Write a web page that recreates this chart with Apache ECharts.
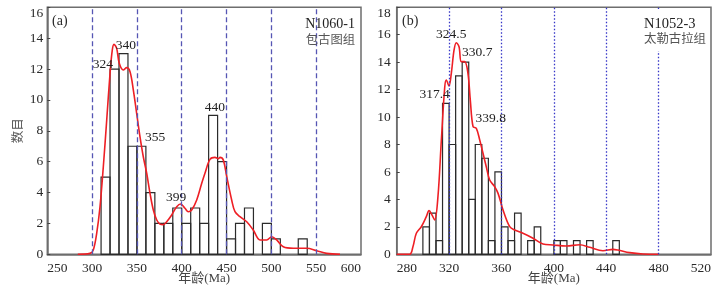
<!DOCTYPE html>
<html>
<head>
<meta charset="utf-8">
<script src="https://cdn.jsdelivr.net/npm/echarts@6/dist/echarts.min.js"></script>
<style>
html,body{margin:0;padding:0;background:#fff;}
#c{width:726px;height:305px;}
</style>
</head>
<body>
<div id="c"></div>
<script>
// ---------- Panel (a) N1060-1 ----------
const binStartA = [310,320,330,340,350,360,370,380,390,400,410,420,430,440,450,460,470,480,490,500,510,520,530];
const countsA   = [5,12,13,7,7,4,2,2,3,2,3,2,9,6,1,2,3,0,2,1,0,0,1];
const binWidthA = 10;
const curveA = [[284,0],[297.6,0.06],[301.3,0.28],[305.1,1.36],[308.8,3.08],[312.5,5.67],[316.3,8.7],[320,11.73],[322.5,13.23],[324.4,13.6],[327.4,13.34],[330.3,12.37],[334.8,11.94],[338.6,12.09],[342.3,11.83],[346,10.64],[349.7,9.13],[353.4,7.62],[357.1,6.32],[360.9,5.25],[364.6,3.95],[368.3,2.87],[372.1,2.22],[375.7,1.96],[379.4,1.92],[383.2,2.11],[388.8,2.55],[394.4,3.08],[398.8,3.26],[403.6,2.98],[407.3,2.76],[411.1,2.87],[416.7,3.52],[422.3,4.6],[425.9,5.25],[431.5,6.15],[437.1,6.28],[440.8,6.2],[442.7,6.28],[446.4,6.1],[450.2,5.03],[455.7,3.52],[459.4,2.76],[465,2.44],[472.5,2.11],[479.8,1.57],[487.3,0.93],[494.8,0.93],[500.4,1.14],[505.9,0.93],[513.3,0.49],[524.5,0.39],[539.4,0.39],[550.6,0.23],[561.7,0.06],[576.6,0]];
const refLinesA = [300,350,400,450,500,550];
const peakTextA = ['324','340','355','399','440'];
const peakPosXA = [312.1,337.8,370.2,393.6,437.1];
const peakPosYA = [12.33,13.56,7.6,3.71,9.48];
const xTicksA = {min:250, max:600, step:50};
const yTicksA = {min:0, max:16, step:2};

// ---------- Panel (b) N1052-3 ----------
const binStartB = [300,305,310,315,320,325,330,335,340,345,350,355,360,365,370,375,380,385,390,395,400,405,410,415,420,425,430,435,440,445];
const countsB   = [2,3,1,11,8,13,14,4,8,7,1,6,2,1,3,0,1,2,0,0,1,1,0,1,0,1,0,0,0,1];
const binWidthB = 5;
const curveB = [[280,0],[289.9,0],[292.4,0.55],[295,1.53],[298.8,2.01],[302.6,2.74],[304.7,3.18],[307,2.86],[309,2.5],[311.5,4.2],[314.1,8.33],[316.7,12.21],[317.9,12.7],[319.9,12.26],[321.7,13.19],[323.8,14.89],[325.5,15.42],[327.6,15.13],[329.3,14.04],[331.9,14.04],[334.4,13.19],[336.2,11.24],[338.3,9.3],[340.8,9.18],[343.4,8.33],[345.9,7.36],[348.4,6.38],[351,5.41],[354.8,4.93],[357.4,4.44],[361.2,3.23],[366.3,2.01],[370.1,1.77],[376.4,1.53],[384.1,1.17],[391.7,0.75],[399.4,0.68],[409.5,0.6],[419.7,0.7],[427.4,0.51],[437.5,0.26],[445.2,0.36],[449,0.31],[457.9,0.12],[468.1,0.02],[480,0]];
const refLinesB = [320,360,400,440,480];
const peakTextB = ['324.5','330.7','317.4','339.8'];
const peakPosXB = [321.7,341.5,309.0,351.8];
const peakPosYB = [16.05,14.7,11.65,9.9];
const xTicksB = {min:280, max:520, step:40};
const yTicksB = {min:0, max:18, step:2};

const sampleA = ['N1060-1','包古图组'];
const sampleB = ['N1052-3','太勒古拉组'];
const xName = '年龄(Ma)';
const yName = '数目';

// ---------- styling ----------
const SERIF = '"Liberation Serif","Noto Sans CJK SC",serif';
const frameColor = '#6e6e6e';
const textColor = '#2a2a2a';

function xAxisCfg(t, gi){
  return {
    type:'value', gridIndex:gi, min:t.min, max:t.max, interval:t.step,
    axisLine:{show:true, lineStyle:{color:frameColor, width:1.5}},
    axisTick:{show:false}, splitLine:{show:false},
    axisLabel:{margin:7, fontFamily:SERIF, fontSize:13.5, color:textColor, alignMinLabel:'left', alignMaxLabel:'right'},
    name:xName, nameLocation:'middle', nameGap:18, nameMoveOverlap:false,
    nameTextStyle:{fontFamily:SERIF, fontSize:13, color:'#444', verticalAlign:'top'}
  };
}
function yAxisCfg(t, gi, withName, margin){
  return {
    type:'value', gridIndex:gi, min:t.min, max:t.max, interval:t.step,
    axisLine:{show:true, lineStyle:{color:frameColor, width:1.5}},
    axisTick:{show:true, inside:true, length:3, lineStyle:{color:'#444', width:1}},
    splitLine:{show:false},
    axisLabel:{margin:margin, fontFamily:SERIF, fontSize:13.5, color:textColor,
      formatter:function(v){ return v === t.max ? '{m|' + v + '}' : String(v); },
      rich:{m:{fontFamily:SERIF, fontSize:13.5, color:textColor, padding:[12,0,0,0]}}},
    name: withName ? yName : '', nameLocation:'middle', nameGap:22, nameRotate:90, nameMoveOverlap:false,
    nameTextStyle:{fontFamily:SERIF, fontSize:12.5, color:'#555'}
  };
}

function barSeries(starts, counts, w, gi){
  const data = [];
  starts.forEach(function(s,i){ if(counts[i] > 0) data.push([s, s + w, counts[i]]); });
  return {
    type:'custom', xAxisIndex:gi, yAxisIndex:gi, silent:true, z:2,
    encode:{x:[0,1], y:2},
    data:data,
    renderItem:function(params, api){
      const p0 = api.coord([api.value(0), 0]);
      const p1 = api.coord([api.value(1), api.value(2)]);
      return {type:'rect', shape:{x:p0[0], y:p1[1], width:p1[0]-p0[0], height:p0[1]-p1[1]},
        style:{fill:'none', stroke:'#2b2b2b', lineWidth:1.2}};
    }
  };
}
function curveSeries(pts, gi, refs, refStyle){
  return {
    type:'line', xAxisIndex:gi, yAxisIndex:gi, data:pts, smooth:0.35, showSymbol:false, silent:true, z:4,
    lineStyle:{color:'#ee1f25', width:1.6}, animation:false,
    markLine:{silent:true, symbol:['none','none'], label:{show:false}, animation:false,
      lineStyle:refStyle, data:refs.map(function(v){ return {xAxis:v}; })}
  };
}
function peakSeries(xs, ys, texts, gi){
  return {
    type:'scatter', xAxisIndex:gi, yAxisIndex:gi, symbolSize:0, silent:true, z:6,
    data:xs.map(function(x,i){ return [x, ys[i], texts[i]]; }),
    itemStyle:{opacity:0},
    label:{show:true, position:'inside', formatter:function(p){ return p.value[2]; },
      fontFamily:SERIF, fontSize:13.5, color:'#222', textBorderWidth:0, textBorderColor:'transparent', opacity:1},
    emphasis:{disabled:true}
  };
}

const chart = echarts.init(document.getElementById('c'), null, {renderer:'canvas'});
chart.setOption({
  animation:false,
  backgroundColor:'#fff',
  grid:[
    {left:47.3, top:7.3, width:313.7, height:247, show:true, borderColor:frameColor, borderWidth:1.5, backgroundColor:'transparent'},
    {left:396.7, top:7.3, width:314.3, height:247, show:true, borderColor:frameColor, borderWidth:1.5, backgroundColor:'transparent'}
  ],
  xAxis:[xAxisCfg(xTicksA,0), xAxisCfg(xTicksB,1)],
  yAxis:[yAxisCfg(yTicksA,0,true,4), yAxisCfg(yTicksB,1,false,6)],
  series:[
    barSeries(binStartA, countsA, binWidthA, 0),
    curveSeries(curveA, 0, refLinesA, {type:[5,3], color:'#5656b4', width:1.3}),
    peakSeries(peakPosXA, peakPosYA, peakTextA, 0),
    barSeries(binStartB, countsB, binWidthB, 1),
    curveSeries(curveB, 1, refLinesB, {type:[1.5,2], color:'#3535c8', width:1.3}),
    peakSeries(peakPosXB, peakPosYB, peakTextB, 1)
  ],
  graphic:[
    {type:'text', left:52, top:14, z:10, style:{text:'(a)', font:'14px ' + SERIF, fill:textColor}},
    {type:'text', left:402, top:14, z:10, style:{text:'(b)', font:'14px ' + SERIF, fill:textColor}},
    {type:'rect', shape:{x:640, y:9, width:68, height:42}, z:9, style:{fill:'#fff'}},
    {type:'text', x:355, y:24, z:10, style:{text:sampleA[0], font:'14px ' + SERIF, fill:'#222', align:'right', verticalAlign:'middle'}},
    {type:'text', x:355, y:39.5, z:10, style:{text:sampleA[1], font:'12.3px "Noto Sans CJK SC"', fill:'#555', align:'right', verticalAlign:'middle'}},
    {type:'text', x:644, y:24, z:10, style:{text:sampleB[0], font:'14.5px ' + SERIF, fill:'#222', align:'left', verticalAlign:'middle'}},
    {type:'text', x:644, y:38.5, z:10, style:{text:sampleB[1], font:'12.4px "Noto Sans CJK SC"', fill:'#555', align:'left', verticalAlign:'middle'}}
  ]
});
</script>
</body>
</html>
